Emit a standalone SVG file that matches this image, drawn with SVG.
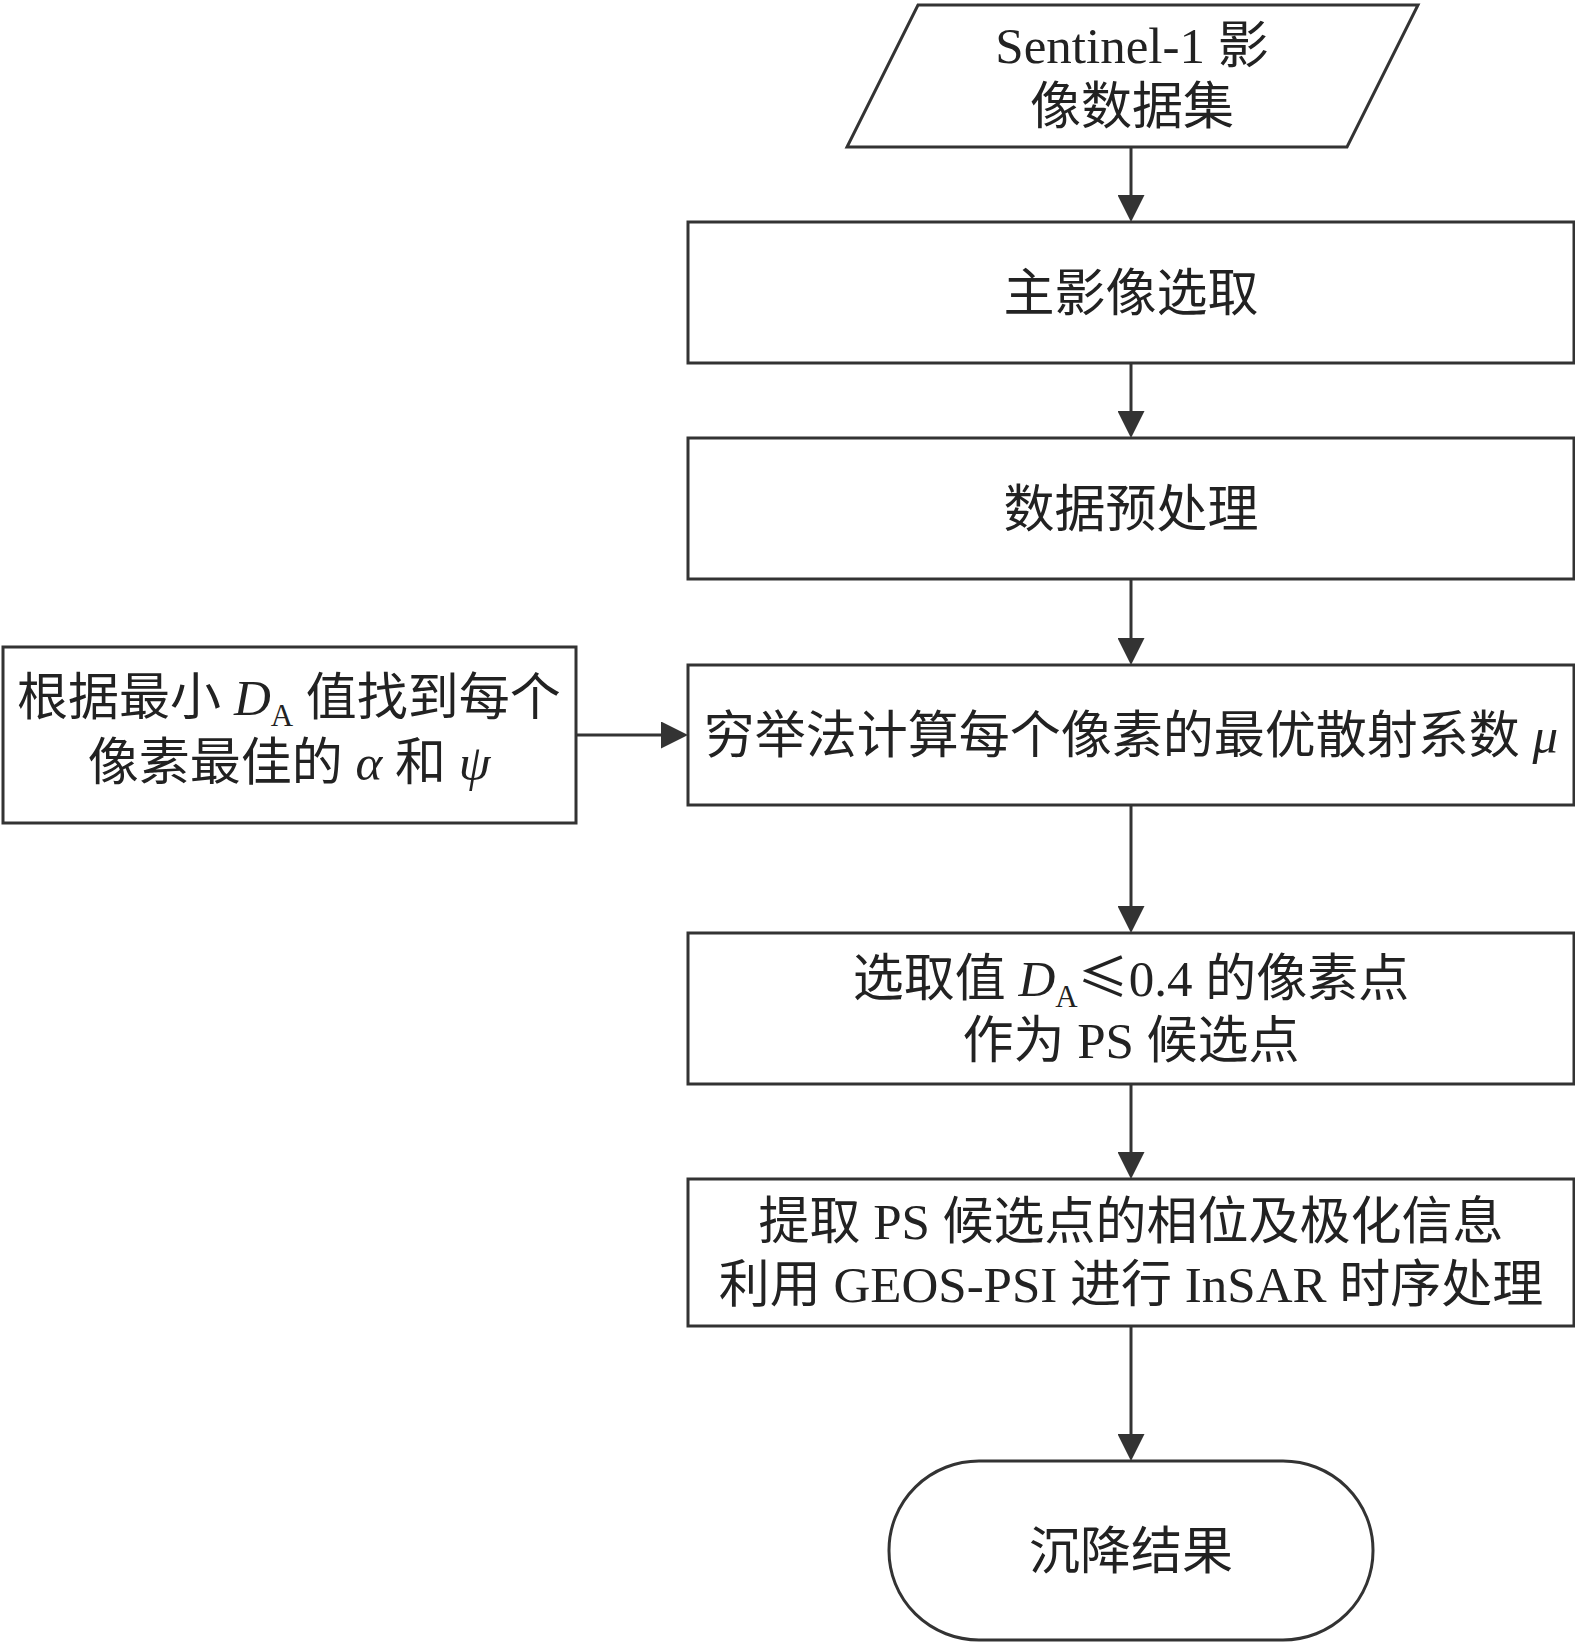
<svg xmlns="http://www.w3.org/2000/svg" width="1575" height="1643" viewBox="0 0 1575 1643">
<style>
.box{fill:#fff;stroke:#333;stroke-width:3}
.t{font-family:"Liberation Serif","Noto Sans CJK SC",serif;font-size:51px;fill:#222;text-anchor:middle}
.i{font-style:italic}
.s{font-size:31px}
.cjk{font-family:"Noto Sans CJK SC",sans-serif}
.ln{stroke:#333;stroke-width:3;fill:none;marker-end:url(#ah)}
</style>
<defs>
<marker id="ah" viewBox="0 0 27 27" markerWidth="27" markerHeight="27" markerUnits="userSpaceOnUse" refX="19" refY="13.5" orient="auto">
<path d="M0,0 L27,13.5 L0,27 Z" fill="#333"/>
</marker>
</defs>
<rect width="1575" height="1643" fill="#fff"/>
<g id="connectors">
<line class="ln" x1="1131" y1="147" x2="1131" y2="214"/>
<line class="ln" x1="1131" y1="363" x2="1131" y2="430"/>
<line class="ln" x1="1131" y1="579" x2="1131" y2="657"/>
<line class="ln" x1="576" y1="735" x2="680" y2="735"/>
<line class="ln" x1="1131" y1="805" x2="1131" y2="925"/>
<line class="ln" x1="1131" y1="1084" x2="1131" y2="1171"/>
<line class="ln" x1="1131" y1="1326" x2="1131" y2="1453"/>
</g>
<g id="n_input">
<polygon class="box" points="918,5 1418,5 1347,147 847,147"/>
<text class="t" x="1132" y="63">Sentinel-1 影</text>
<text class="t" x="1132" y="124">像数据集</text>
</g>
<g id="n_master">
<rect class="box" x="688" y="222" width="886" height="141"/>
<text class="t" x="1131" y="311">主影像选取</text>
</g>
<g id="n_pre">
<rect class="box" x="688" y="438" width="886" height="141"/>
<text class="t" x="1131" y="527">数据预处理</text>
</g>
<g id="n_left">
<rect class="box" x="3" y="647" width="573" height="176"/>
<text class="t" x="289" y="715">根据最小 <tspan class="i">D</tspan><tspan class="s" dy="11">A</tspan><tspan dy="-11"> 值找到每个</tspan></text>
<text class="t" x="289" y="780">像素最佳的 <tspan class="i">α</tspan> 和 <tspan class="i">ψ</tspan></text>
</g>
<g id="n_mu">
<rect class="box" x="688" y="665" width="886" height="140"/>
<text class="t" x="1131" y="753">穷举法计算每个像素的最优散射系数 <tspan class="i">μ</tspan></text>
</g>
<g id="n_ps">
<rect class="box" x="688" y="933" width="886" height="151"/>
<text class="t" x="1131" y="996">选取值 <tspan class="i">D</tspan><tspan class="s" dy="11">A</tspan><tspan class="cjk" dy="-11">≤</tspan>0.4 的像素点</text>
<text class="t" x="1131" y="1058">作为 PS 候选点</text>
</g>
<g id="n_psi">
<rect class="box" x="688" y="1179" width="886" height="147"/>
<text class="t" x="1131" y="1239">提取 PS 候选点的相位及极化信息</text>
<text class="t" x="1131" y="1302">利用 GEOS-PSI 进行 InSAR 时序处理</text>
</g>
<g id="n_result">
<rect class="box" x="889" y="1461" width="484" height="179" rx="90" ry="89"/>
<text class="t" x="1131" y="1569">沉降结果</text>
</g>
</svg>
